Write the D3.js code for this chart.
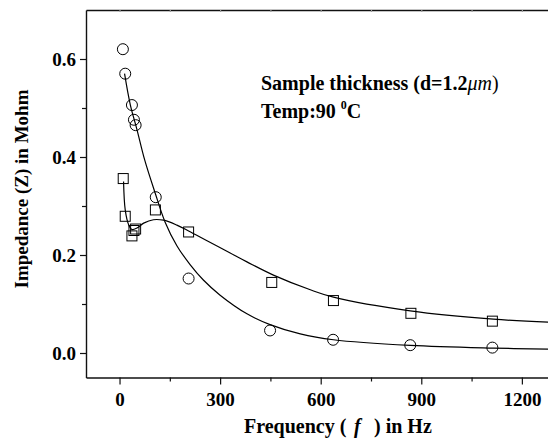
<!DOCTYPE html>
<html><head><meta charset="utf-8">
<script src="https://cdn.jsdelivr.net/npm/d3@7"></script>
<style>
body{margin:0;background:#fff}
svg{display:block;font-family:"Liberation Serif","Times New Roman",serif}
</style>
</head><body><svg id="c" width="548" height="442"></svg>
<script>
// ---- data ----
const xTicks = [0, 300, 600, 900, 1200];
const xMinorTicks = [150, 450, 750, 1050];
const topTicks = [0, 150, 300, 450, 600, 750, 900, 1050, 1200];
const yTicks = [0.0, 0.2, 0.4, 0.6];
const yMinorTicks = [0.1, 0.3, 0.5];

// circles (open circles)
const circleF = [10, 17, 37, 43, 48, 108, 206, 449, 637, 867, 1112];
const circleZ = [0.620, 0.570, 0.506, 0.476, 0.465, 0.318, 0.152, 0.046, 0.027, 0.016, 0.011];
// squares (open squares)
const squareF = [11, 17, 37, 43, 48, 107, 206, 454, 638, 869, 1112];
const squareZ = [0.356, 0.279, 0.239, 0.250, 0.253, 0.292, 0.247, 0.144, 0.107, 0.081, 0.065];

// fitted curve for circles
const fitCircleF = [15, 32, 52, 75, 106, 136, 171, 211, 250, 300, 380, 449, 539, 638, 867, 1115, 1280];
const fitCircleZ = [0.570, 0.507, 0.456, 0.394, 0.327, 0.267, 0.219, 0.180, 0.149, 0.118, 0.080, 0.058, 0.039, 0.027, 0.0155, 0.010, 0.008];
// fitted curve for squares
const fitSquareF = [12, 17, 27, 37, 52, 72, 101, 131, 171, 206, 261, 330, 380, 459, 569, 638, 867, 1115, 1280];
const fitSquareZ = [0.350, 0.292, 0.262, 0.252, 0.255, 0.265, 0.272, 0.271, 0.261, 0.249, 0.229, 0.204, 0.186, 0.159, 0.129, 0.114, 0.086, 0.069, 0.063];

// ---- chart ----
const svg = d3.select('#c');
const x = d3.scaleLinear().domain([-100, 1280]).range([86, 548.7]);
const y = d3.scaleLinear().domain([-0.05, 0.7]).range([377.5, 10]);
const x0 = x.range()[0], x1 = x.range()[1], yB = y.range()[0], yT = y.range()[1];

svg.append('defs').append('clipPath').attr('id', 'clip')
  .append('rect').attr('x', x0).attr('y', yT).attr('width', x1 - x0).attr('height', yB - yT);

function styleAxis(g) {
  g.selectAll('path.domain').attr('stroke', '#111').attr('stroke-width', 1.4);
  g.selectAll('.tick line').attr('stroke', '#111').attr('stroke-width', 1.2);
  g.selectAll('.tick text').attr('fill', '#000').attr('font-size', 19).attr('font-weight', 'bold')
    .attr('font-family', '"Liberation Serif","Times New Roman",serif');
}

// bottom axis
svg.append('g').attr('transform', `translate(0,${yB})`)
  .call(d3.axisBottom(x).tickValues(xTicks).tickSize(7).tickSizeOuter(0).tickPadding(8).tickFormat(d3.format('d')))
  .call(styleAxis);
svg.append('g').attr('transform', `translate(0,${yB})`)
  .call(d3.axisBottom(x).tickValues(xMinorTicks).tickSize(4).tickFormat(''))
  .call(g => g.select('path.domain').remove()).call(styleAxis);

// left axis
svg.append('g').attr('transform', `translate(${x0},0)`)
  .call(d3.axisLeft(y).tickValues(yTicks).tickSize(6).tickSizeOuter(0).tickPadding(4).tickFormat(d3.format('.1f')))
  .call(styleAxis);
svg.append('g').attr('transform', `translate(${x0},0)`)
  .call(d3.axisLeft(y).tickValues(yMinorTicks).tickSize(4).tickFormat(''))
  .call(g => g.select('path.domain').remove()).call(styleAxis);

// top frame
svg.append('g').attr('transform', `translate(0,${yT})`)
  .call(d3.axisTop(x).tickValues(topTicks).tickSize(-2).tickSizeOuter(0).tickFormat(''))
  .call(styleAxis)
  .call(g => g.selectAll('.tick line').attr('stroke', '#999'));

// curves
const line = d3.line().x(d => x(d[0])).y(d => y(d[1])).curve(d3.curveCatmullRom.alpha(0.5));
const plot = svg.append('g').attr('clip-path', 'url(#clip)');
plot.append('path').datum(fitCircleF.map((f, i) => [f, fitCircleZ[i]]))
  .attr('d', line).attr('fill', 'none').attr('stroke', '#000').attr('stroke-width', 1.2);
plot.append('path').datum(fitSquareF.map((f, i) => [f, fitSquareZ[i]]))
  .attr('d', line).attr('fill', 'none').attr('stroke', '#000').attr('stroke-width', 1.2);

// markers
plot.selectAll('circle.pt').data(circleF.map((f, i) => [f, circleZ[i]])).join('circle')
  .attr('class', 'pt').attr('cx', d => x(d[0])).attr('cy', d => y(d[1])).attr('r', 5.5)
  .attr('fill', 'none').attr('stroke', '#000').attr('stroke-width', 1);
const s = 10;
plot.selectAll('rect.pt').data(squareF.map((f, i) => [f, squareZ[i]])).join('rect')
  .attr('class', 'pt').attr('x', d => x(d[0]) - s / 2).attr('y', d => y(d[1]) - s / 2)
  .attr('width', s).attr('height', s)
  .attr('fill', 'none').attr('stroke', '#000').attr('stroke-width', 1);

// axis titles
svg.append('text').attr('transform', 'translate(28,189) rotate(-90)')
  .attr('text-anchor', 'middle').attr('font-size', 19).attr('font-weight', 'bold')
  .text('Impedance (Z) in Mohm');

const xt = svg.append('text').attr('x', 244).attr('y', 433).attr('font-size', 20).attr('font-weight', 'bold');
xt.append('tspan').text('Frequency (');
xt.append('tspan').attr('x', 354).attr('font-style', 'italic').text('f');
xt.append('tspan').attr('x', 374).text(') in Hz');

// annotation
const a1 = svg.append('text').attr('x', 261).attr('y', 90).attr('font-size', 20).attr('font-weight', 'bold');
a1.append('tspan').text('Sample thickness (d=1.2');
a1.append('tspan').attr('font-style', 'italic').attr('font-weight', 'normal').text('μm');
a1.append('tspan').attr('font-weight', 'normal').text(')');

const a2 = svg.append('text').attr('x', 261).attr('y', 118).attr('font-size', 20).attr('font-weight', 'bold');
a2.append('tspan').text('Temp:90 ');
a2.append('tspan').attr('font-size', 12).attr('dy', -9).text('0');
a2.append('tspan').attr('dy', 9).text('C');
</script>
</body></html>
